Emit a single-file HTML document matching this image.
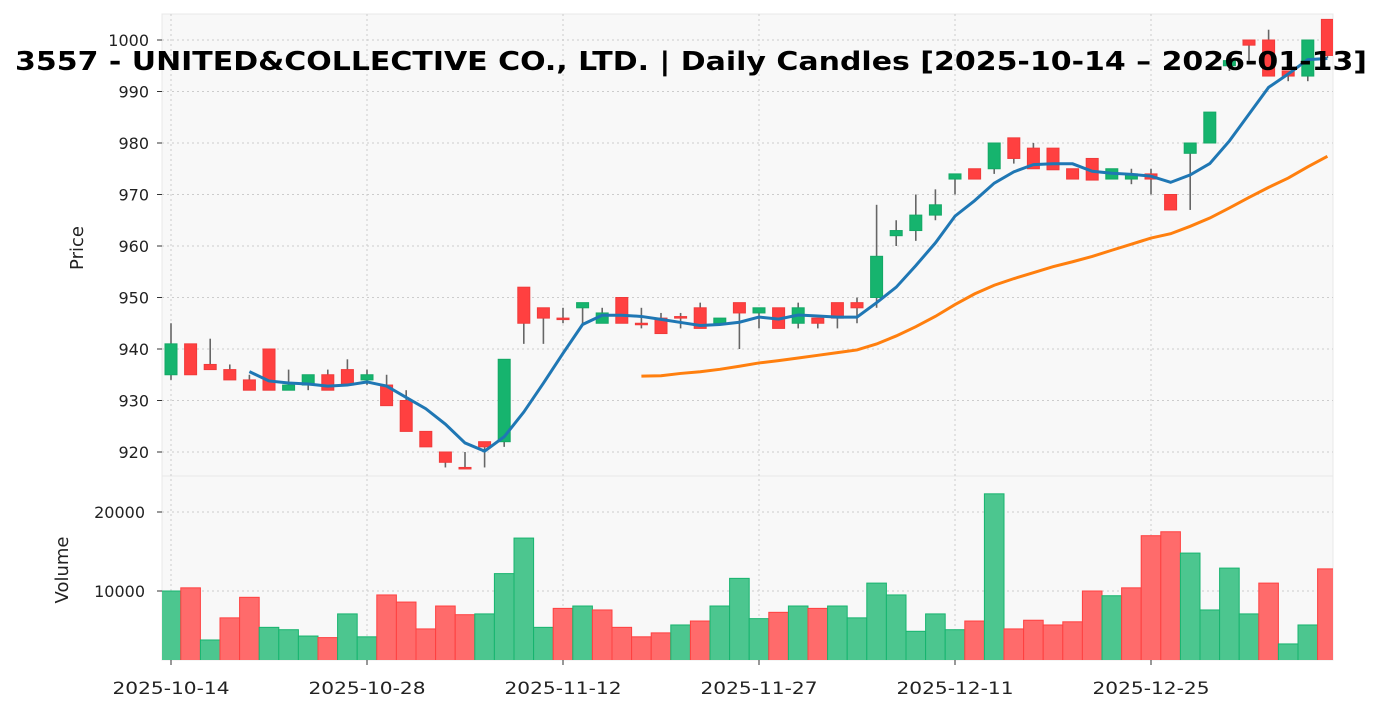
<!DOCTYPE html>
<html><head><meta charset="utf-8"><style>
body{margin:0;background:#fff;font-family:"DejaVu Sans","Liberation Sans",sans-serif}
svg{display:block}
</style></head><body>
<svg id="c" width="1383" height="711" xmlns="http://www.w3.org/2000/svg" font-family="DejaVu Sans, Liberation Sans, sans-serif"></svg>
<script>
const dates=["2025-10-14","2025-10-28","2025-11-12","2025-11-27","2025-12-11","2025-12-25"];
const dateIdx=[0,10,20,30,40,50];
const opens=[935,941,937,936,934,940,932,933,935,936,934,933,930,924,920,917,922,922,952,948,946,948,945,950,945,946,946.3,948,945,949,947,948,945,946,949,949,950,962,963,966,973,975,975,981,979,979,975,977,973,973,974,970,978,980,995,1000,1000,994,993,1004];
const closes=[941,935,936,934,932,932,933,935,932,933,935,929,924,921,918,916.8,921,938,945,946,945.8,949,947,945,944.8,943,946,944,946,947,948,944,948,945,946,948,958,963,966,968,974,973,980,977,975,974.8,973,972.8,975,974,973,967,980,986,996,999,993,993,1000,997];
const highs=[945,941,942,937,935,940,936,935,936,938,936,935,932,924,920,920,922,938,952,948,948,949,948,950,948,947,947,949,946,949,948,948,949,946,949,950,968,965,970,971,974,975,980,981,980,979,975,977,975,975,975,970,980,986,996,1000,1002,994,1000,1004];
const lows=[934,935,936,934,932,932,932,932,932,933,933,929,924,921,917,917,917,921,941,941,945,945,945,945,944,943,944,944,945,940,944,944,944,944,944,945,948,960,961,965,970,973,974,976,975,974.8,973,972.8,973,972,970,967,967,980,994,996,993,992,992,996.5];
const volumes=[10000,10400,3800,6600,9200,5400,5100,4300,4100,7100,4200,9500,8600,5200,8100,7000,7100,12200,16700,5400,7800,8100,7600,5400,4200,4700,5700,6200,8100,11600,6500,7300,8100,7800,8100,6600,11000,9500,4900,7100,5100,6200,22300,5200,6300,5700,6100,10000,9400,10400,17000,17500,14800,7600,12900,7100,11000,3300,5700,12800];
const priceTicks=[920,930,940,950,960,970,980,990,1000];
const volTicks=[10000,20000];

const NS="http://www.w3.org/2000/svg",svg=document.getElementById('c');
const X=i=>171+19.6*i, PY=p=>40+(1000-p)*5.15, VY=v=>670-v*0.0079;
const L=162,R=1333,PT=14,PB=476,VB=660;
function el(t,a,p){const e=document.createElementNS(NS,t);for(const k in a)e.setAttribute(k,a[k]);(p||svg).appendChild(e);return e;}
const UP="#16b46e",DN="#ff4040";
let bg=el('rect',{x:L,y:PT,width:R-L,height:PB-PT,fill:'#f8f8f8',stroke:'#e8e8e8'});

let bg2=el('rect',{x:L,y:PB,width:R-L,height:VB-PB,fill:'#f8f8f8',stroke:'#e8e8e8'});

const clipP=el('clipPath',{id:'cp'});el('rect',{x:L,y:PT,width:R-L,height:PB-PT},clipP);
const clipV=el('clipPath',{id:'cv'});el('rect',{x:L,y:PB,width:R-L,height:VB-PB},clipV);
dateIdx.forEach((d,k)=>{
 el('line',{x1:X(d),x2:X(d),y1:PT,y2:VB,stroke:'#cccccc','stroke-dasharray':'2,3','stroke-width':1});
 el('line',{x1:X(d),x2:X(d),y1:VB,y2:VB+5,stroke:'#333'});
 const t=el('text',{x:X(d),y:694,'text-anchor':'middle','font-size':17,fill:'#222',textLength:117,lengthAdjust:'spacingAndGlyphs'});t.textContent=dates[k];
 
});
priceTicks.forEach(p=>{
 el('line',{x1:L,x2:R,y1:PY(p),y2:PY(p),stroke:'#cccccc','stroke-dasharray':'2,3'});
 el('line',{x1:L-5,x2:L,y1:PY(p),y2:PY(p),stroke:'#333'});
 const t=el('text',{x:L-13,y:PY(p)+6,'text-anchor':'end','font-size':16,fill:'#222'});t.textContent=p;
 
});
volTicks.forEach(v=>{
 el('line',{x1:L,x2:R,y1:VY(v),y2:VY(v),stroke:'#cccccc','stroke-dasharray':'2,3'});
 el('line',{x1:L-5,x2:L,y1:VY(v),y2:VY(v),stroke:'#333'});
 const t=el('text',{x:L-17,y:VY(v)+6,'text-anchor':'end','font-size':16,fill:'#222'});t.textContent=v;
 
});
const gv=el('g',{'clip-path':'url(#cv)'});
volumes.forEach((v,i)=>{
 const up=i===0?true:closes[i]>=closes[i-1];
 const b=el('rect',{x:X(i)-9.8,y:VY(v),width:19.6,height:670-VY(v),fill:up?'#4cc68f':'#ff6b6b',stroke:up?'#16b46e':'#ff4040','stroke-width':1},gv);
 
});
const gp=el('g',{'clip-path':'url(#cp)'});
opens.forEach((o,i)=>{
 const c=closes[i],up=c>=o;
 const w=el('line',{x1:X(i),x2:X(i),y1:PY(highs[i]),y2:PY(lows[i]),stroke:'#666','stroke-width':1.6},gp);
 
 const top=PY(Math.max(o,c)),h=Math.max(1.5,Math.abs(PY(o)-PY(c)));
 const b=el('rect',{x:X(i)-6,y:top,width:12,height:h,fill:up?UP:DN,stroke:up?'#13a865':'#f03a3a','stroke-width':1},gp);
 
});
function ma(n){const pts=[];for(let i=n-1;i<closes.length;i++){let s=0;for(let j=i-n+1;j<=i;j++)s+=closes[j];pts.push(X(i)+','+PY(s/n));}return pts.join(' ');}
const m5=el('polyline',{points:ma(5),fill:'none',stroke:'#1f77b4','stroke-width':3},gp);

const m25=el('polyline',{points:ma(25),fill:'none',stroke:'#ff7f0e','stroke-width':3},gp);

let yt=el('text',{x:0,y:0,transform:'translate(83,248) rotate(-90)','text-anchor':'middle','font-size':18,fill:'#222'});yt.textContent='Price';

let vt=el('text',{x:0,y:0,transform:'translate(68,570) rotate(-90)','text-anchor':'middle','font-size':18,fill:'#222'});vt.textContent='Volume';

let tt=el('text',{x:691,y:70,'text-anchor':'middle','font-size':26,'font-weight':'bold',fill:'#000',textLength:1352,lengthAdjust:'spacingAndGlyphs'});
tt.textContent='3557 - UNITED&COLLECTIVE CO., LTD. | Daily Candles [2025-10-14 – 2026-01-13]';

</script>
</body></html>
